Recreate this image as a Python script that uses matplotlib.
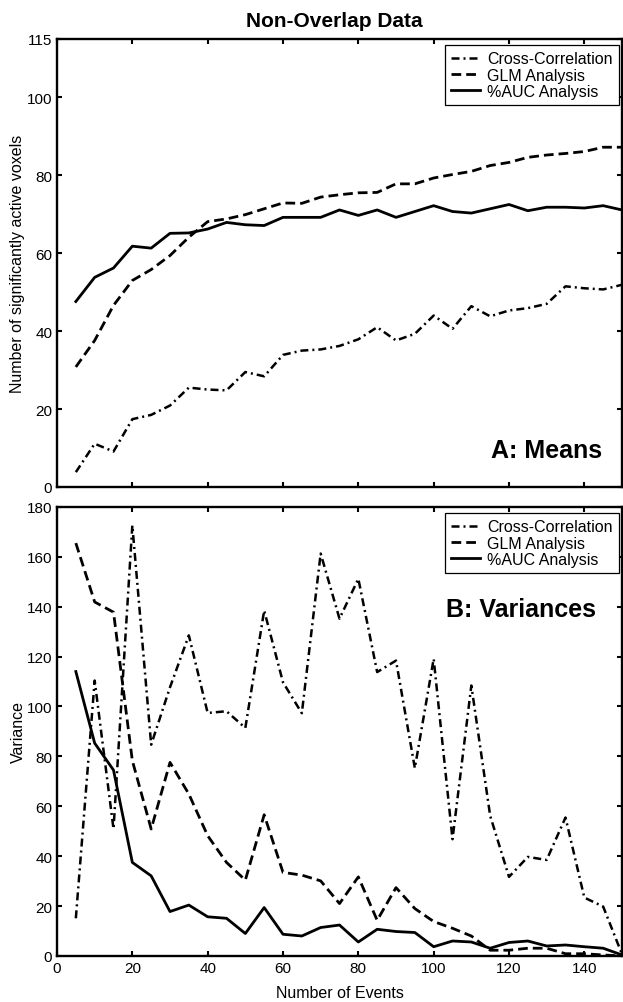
import matplotlib
matplotlib.use("Agg")
import matplotlib.pyplot as plt

plt.rcParams['font.family'] = ['Liberation Sans', 'DejaVu Sans']

events = [5, 10, 15, 20, 25, 30, 35, 40, 45, 50, 55, 60, 65, 70, 75,
          80, 85, 90, 95, 100, 105, 110, 115, 120, 125, 130, 135, 140, 145, 150]

mean_cc = [3.8, 11.1, 9.1, 17.4, 18.5, 20.9, 25.5, 25.0, 24.8, 29.5, 28.4, 33.9, 35.0, 35.3, 36.2,
           37.9, 41.0, 37.6, 39.3, 44.0, 40.6, 46.4, 43.8, 45.3, 45.9, 47.0, 51.5, 51.0, 50.7, 51.9]
mean_glm = [30.8, 37.6, 46.6, 53.0, 55.8, 59.4, 64.1, 68.1, 68.8, 69.9, 71.4, 72.9, 72.8, 74.4, 75.0,
            75.5, 75.6, 77.8, 77.8, 79.3, 80.2, 81.0, 82.5, 83.3, 84.6, 85.2, 85.6, 86.1, 87.2, 87.2]
mean_auc = [47.6, 53.8, 56.2, 61.8, 61.3, 65.1, 65.2, 66.2, 67.9, 67.3, 67.1, 69.2, 69.2, 69.2, 71.1,
            69.7, 71.1, 69.2, 70.7, 72.2, 70.7, 70.3, 71.4, 72.5, 70.9, 71.8, 71.8, 71.6, 72.2, 71.1]

var_cc = [15.1, 110.4, 50.9, 172.6, 84.7, 107.7, 128.5, 97.4, 98.1, 91.4, 138.5, 109.7, 97.3, 161.3, 135.2,
          151.2, 113.8, 118.4, 75.3, 119.1, 46.8, 108.4, 56.2, 31.7, 39.7, 38.5, 55.5, 23.4, 19.8, 0.7]
var_glm = [165.5, 141.9, 137.8, 78.3, 50.9, 77.6, 64.9, 48.2, 37.5, 30.4, 56.6, 33.5, 32.4, 30.1, 21.0,
           31.7, 14.3, 27.4, 19.0, 13.8, 11.1, 8.0, 2.3, 2.3, 3.1, 3.1, 0.9, 0.9, 0.4, 0.0]
var_auc = [114.0, 85.3, 74.5, 37.5, 32.1, 17.8, 20.4, 15.7, 15.1, 9.0, 19.4, 8.7, 8.0, 11.4, 12.4,
           5.6, 10.7, 9.8, 9.4, 3.7, 6.0, 5.6, 3.1, 5.4, 6.0, 4.0, 4.4, 3.7, 3.1, 0.4]

series_labels = ['Cross-Correlation', 'GLM Analysis', '%AUC Analysis']
top_yticks = [0, 20, 40, 60, 80, 100, 115]
bot_yticks = [0, 20, 40, 60, 80, 100, 120, 140, 160, 180]
xticks = [0, 20, 40, 60, 80, 100, 120, 140]

fig = plt.figure(figsize=(6.23, 10.03), dpi=100)
ax1 = fig.add_axes([0.0915, 0.5135, 0.9069, 0.4467])
ax2 = fig.add_axes([0.0915, 0.0459, 0.9069, 0.4477])

styles = [dict(color='black', lw=1.8, dashes=(3.2, 1.6, 0.8, 1.6)),
          dict(color='black', lw=2.0, dashes=(3.5, 1.8)),
          dict(color='black', lw=2.0, linestyle='-')]

for ax, data in ((ax1, (mean_cc, mean_glm, mean_auc)), (ax2, (var_cc, var_glm, var_auc))):
    for vals, st, lab in zip(data, styles, series_labels):
        ax.plot(events, vals, label=lab, **st)
    ax.set_xlim(0, 150)
    ax.set_xticks(xticks)
    for s in ax.spines.values():
        s.set_linewidth(1.7)
    ax.tick_params(direction='in', top=True, right=True, length=3.8, width=1.5,
                   labelsize=11, pad=3.5)
    leg = ax.legend(loc='upper right', bbox_to_anchor=(0.9947, 0.9866), borderaxespad=0,
                    fontsize=11.5, frameon=True, fancybox=False, framealpha=1,
                    edgecolor='black', handlelength=1.8, handletextpad=0.45,
                    labelspacing=0.08, borderpad=0.4)
    leg.get_frame().set_linewidth(0.9)

ax1.set_ylim(0, 115)
ax1.set_yticks(top_yticks)
ax1.set_xticklabels([])
ax1.set_ylabel('Number of significantly active voxels', fontsize=11.5)
ax1.yaxis.set_label_coords(-0.0558, 0.5)
ax1.set_title('Non-Overlap Data', fontsize=15, fontweight='bold', pad=9, x=0.491)
ax1.text(144.6, 7.7, 'A: Means', fontsize=18, fontweight='bold', ha='right', va='baseline')

ax2.set_ylim(0, 180)
ax2.set_yticks(bot_yticks)
ax2.set_ylabel('Variance', fontsize=11.5)
ax2.yaxis.set_label_coords(-0.0558, 0.5)
ax2.set_xlabel('Number of Events', fontsize=11.5, labelpad=7)
ax2.text(143.2, 136.3, 'B: Variances', fontsize=18, fontweight='bold', ha='right', va='baseline')

fig.savefig('out.png', dpi=100)
